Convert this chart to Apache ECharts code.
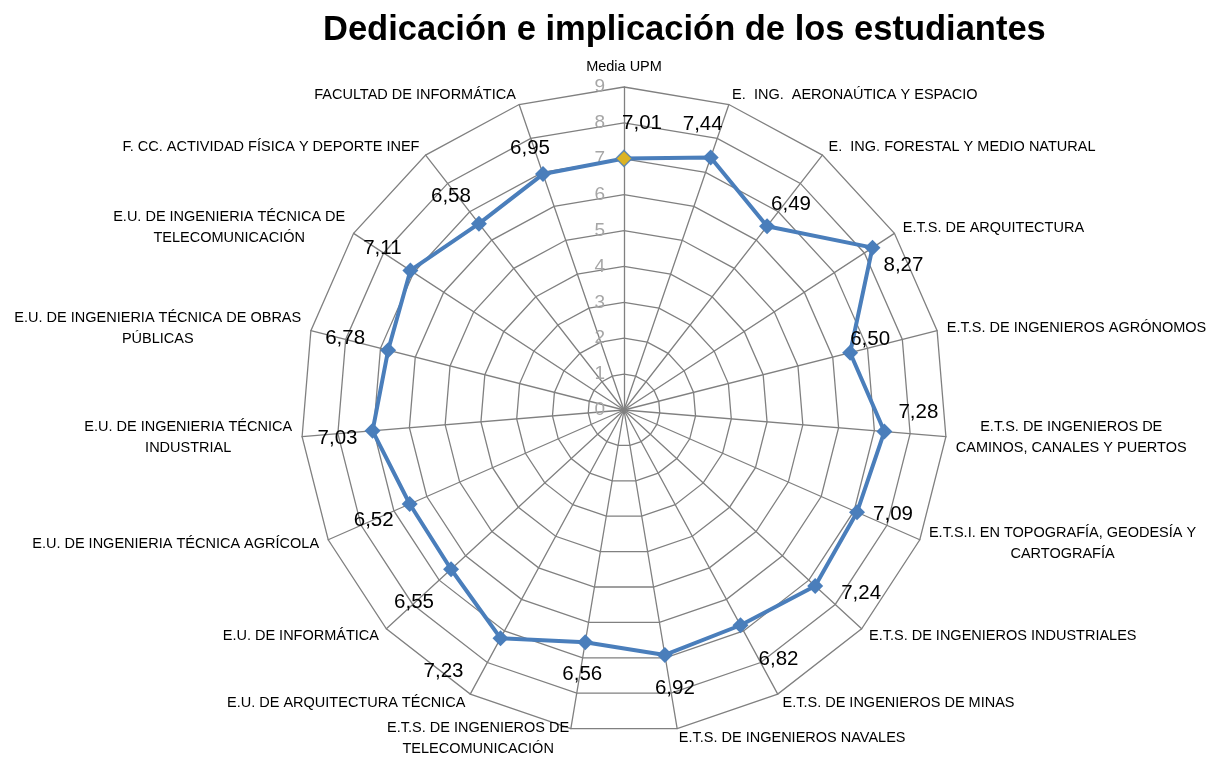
<!DOCTYPE html>
<html>
<head>
<meta charset="utf-8">
<script src="https://cdn.jsdelivr.net/npm/echarts@6/dist/echarts.min.js"></script>
<style>
  html, body { margin: 0; padding: 0; background: #fff; }
  #chart { width: 1221px; height: 761px; }
</style>
</head>
<body>
<div id="chart"></div>
<script>
// categories in clockwise order, starting at the top
const categories = [
  'Media UPM',
  'E.  ING.  AERONAÚTICA Y ESPACIO',
  'E.  ING. FORESTAL Y MEDIO NATURAL',
  'E.T.S. DE ARQUITECTURA',
  'E.T.S. DE INGENIEROS AGRÓNOMOS',
  'E.T.S. DE INGENIEROS DE\nCAMINOS, CANALES Y PUERTOS',
  'E.T.S.I. EN TOPOGRAFÍA, GEODESÍA Y\nCARTOGRAFÍA',
  'E.T.S. DE INGENIEROS INDUSTRIALES',
  'E.T.S. DE INGENIEROS DE MINAS',
  'E.T.S. DE INGENIEROS NAVALES',
  'E.T.S. DE INGENIEROS DE\nTELECOMUNICACIÓN',
  'E.U. DE ARQUITECTURA TÉCNICA',
  'E.U. DE INFORMÁTICA',
  'E.U. DE INGENIERIA TÉCNICA AGRÍCOLA',
  'E.U. DE INGENIERIA TÉCNICA\nINDUSTRIAL',
  'E.U. DE INGENIERIA TÉCNICA DE OBRAS\nPÚBLICAS',
  'E.U. DE INGENIERIA TÉCNICA DE\nTELECOMUNICACIÓN',
  'F. CC. ACTIVIDAD FÍSICA Y DEPORTE INEF',
  'FACULTAD DE INFORMÁTICA'
];
const values = [7.01, 7.44, 6.49, 8.27, 6.50, 7.28, 7.09, 7.24, 6.82, 6.92,
                6.56, 7.23, 6.55, 6.52, 7.03, 6.78, 7.11, 6.58, 6.95];
const scaleMax = 9;

// where each value label sits relative to its marker (px), same order as categories
const labelOffsets = [
  [18, -35], [-8, -33], [24, -22], [31, 18], [20, -13], [34, -19], [36, 2],
  [46, 7], [38, 34], [10, 33], [-3, 32], [-57, 33], [-37, 33], [-36, 16],
  [-35, 8], [-43, -12], [-28, -22], [-28, -27], [-13, -26]
];

const cx = 624, cy = 410, R = 323;
const font = "'Liberation Sans', Arial, sans-serif";
const gridColor = '#808080';

// echarts radar runs counter-clockwise, so flip everything after the first
const order = [0].concat(categories.map((c, i) => i).slice(1).reverse());
const indicators = order.map((i, k) => {
  const ind = { name: categories[i], min: 0, max: scaleMax };
  if (k === 0) ind.axisLabel = { show: true };
  return ind;
});
const radarValues = order.map(i => values[i]);

const myChart = echarts.init(document.getElementById('chart'));

const option = {
  animation: false,
  title: {
    text: 'Dedicación e implicación de los estudiantes',
    left: 318,
    top: 8,
    textStyle: { fontFamily: font, fontSize: 34.5, fontWeight: 'bold', color: '#000' }
  },
  radar: {
    center: [cx, cy],
    radius: R,
    startAngle: 90,
    shape: 'polygon',
    splitNumber: 9,
    nameGap: 10,
    axisName: {
      color: '#000',
      fontFamily: font,
      fontSize: 14.5,
      formatter: (name) => name.split('\n').map(l => '{c|' + l + '}').join('\n'),
      rich: { c: { align: 'center', fontFamily: font, fontSize: 14.5, color: '#000', lineHeight: 21 } }
    },
    axisLine: { lineStyle: { color: gridColor, width: 1.3 } },
    splitLine: { lineStyle: { color: gridColor, width: 1.3 } },
    splitArea: { show: false },
    axisTick: { show: false },
    axisLabel: { show: false, color: '#a6a6a6', fontSize: 19, fontFamily: font, margin: 19 },
    indicator: indicators
  },
  polar: { center: [cx, cy], radius: R },
  radiusAxis: { min: 0, max: scaleMax, show: false },
  angleAxis: { type: 'value', min: 0, max: categories.length, startAngle: 90, clockwise: true, show: false },
  series: [
    {
      type: 'radar',
      symbol: 'diamond',
      symbolSize: 16,
      lineStyle: { color: '#4a7ebb', width: 4 },
      itemStyle: { color: '#4a7ebb' },
      label: {
        show: true,
        color: '#000',
        fontSize: 20.5,
        fontFamily: font,
        formatter: (p) => Number(p.value).toFixed(2).replace('.', ',')
      },
      labelLayout: (p) => {
        const px = p.rect.x + p.rect.width / 2;
        const py = p.rect.y + p.rect.height / 2;
        // recover which spoke this marker is on (clockwise from top)
        let a = Math.atan2(px - cx, cy - py) * 180 / Math.PI;
        if (a < 0) a += 360;
        const idx = Math.round(a / (360 / categories.length)) % categories.length;
        const off = labelOffsets[idx];
        return { x: px + off[0], y: py + off[1], align: 'center', verticalAlign: 'middle' };
      },
      data: [{ value: radarValues, name: 'Dedicación' }]
    },
    {
      type: 'scatter',
      coordinateSystem: 'polar',
      symbol: 'diamond',
      symbolSize: 16,
      z: 5,
      itemStyle: { color: '#ffc000', borderColor: '#4a7ebb', borderWidth: 1.5 },
      data: [[values[0], 0]]
    }
  ]
};

option && myChart.setOption(option);
</script>
</body>
</html>
